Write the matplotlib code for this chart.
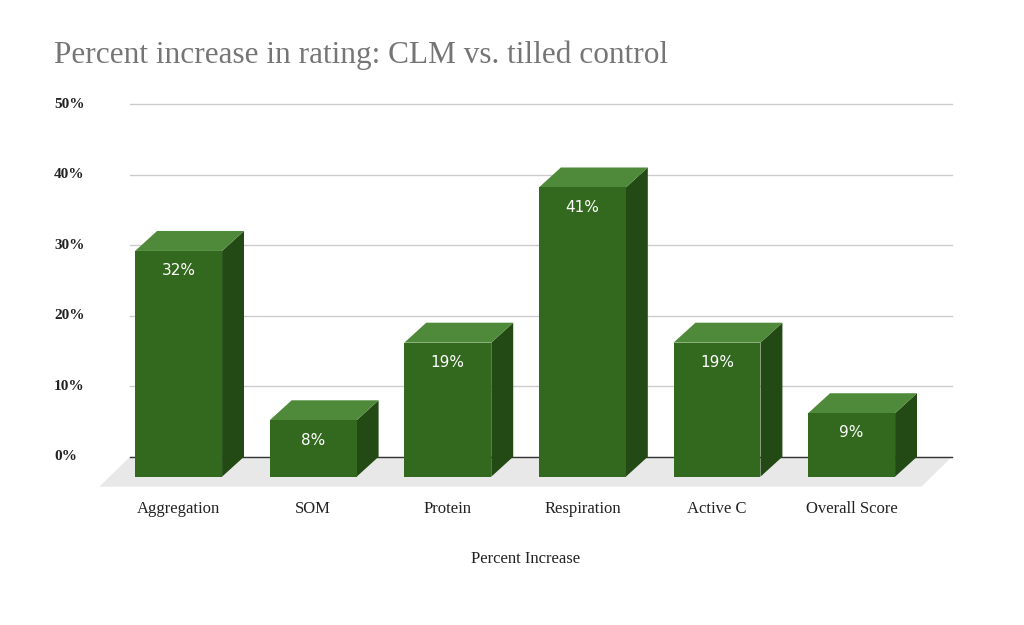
import matplotlib
matplotlib.use("Agg")
import matplotlib.pyplot as plt
from matplotlib.patches import Polygon
from matplotlib.transforms import blended_transform_factory

categories = ["Aggregation", "SOM", "Protein", "Respiration", "Active C", "Overall Score"]
values = [32, 8, 19, 41, 19, 9]
yticks = [0, 10, 20, 30, 40, 50]
ytick_labels = ["0%", "10%", "20%", "30%", "40%", "50%"]

W, H = 1024, 625
fig = plt.figure(figsize=(W/100, H/100), dpi=100)
ax = fig.add_axes([130/W, (H-492)/H, (952-130)/W, (492-104)/H])
x0, x1 = -0.524, 5.583
ax.set_xlim(x0, x1)
ax.set_ylim(-5, 50)
ax.axis("off")

serif = "Liberation Serif"
dx, dy = -0.163, -2.83
w = 0.646

# floor
ax.add_patch(Polygon([(x0, 0), (x1, 0), (x1 + dx*1.4, -4.25), (x0 + dx*1.4, -4.25)],
                     closed=True, fc="#e8e8e8", ec="none", zorder=1, clip_on=False))
for t in yticks:
    ax.plot([x0, x1], [t, t], color="#333333" if t == 0 else "#cccccc", lw=1,
            zorder=0.5 if t else 1.5, clip_on=False)

trans = blended_transform_factory(fig.transFigure, ax.transData)
for t, lab in zip(yticks, ytick_labels):
    ax.text(54/W, t, lab, transform=trans, ha="left", va="center",
            fontsize=11, family=serif, color="#222222", fontweight="bold")

front_c, top_c, side_c = "#33691e", "#4f8a3b", "#234a14"
for i, v in enumerate(values):
    l, r = i - w/2, i + w/2
    ax.add_patch(Polygon([(r+dx, v+dy), (r, v), (r, 0), (r+dx, dy)], closed=True,
                         fc=side_c, ec="none", zorder=2, clip_on=False))
    ax.add_patch(Polygon([(l+dx, v+dy), (r+dx, v+dy), (r, v), (l, v)], closed=True,
                         fc=top_c, ec="none", zorder=2, clip_on=False))
    ax.add_patch(Polygon([(l+dx, dy), (r+dx, dy), (r+dx, v+dy), (l+dx, v+dy)], closed=True,
                         fc=front_c, ec="none", zorder=3, clip_on=False))
    ax.text(i+dx, v+dy-2.8, f"{v}%", ha="center", va="center", color="white",
            fontsize=11, zorder=4)
    ax.text(i+dx, -7.4, categories[i], ha="center", va="center", family=serif,
            fontsize=12, color="#222222")

fig.text(526/W, 1 - 559/H, "Percent Increase", ha="center", va="center",
         family=serif, fontsize=12, color="#222222")
fig.text(54/W, 1 - 55/H, "Percent increase in rating: CLM vs. tilled control",
         ha="left", va="center", family=serif, fontsize=22.5, color="#757575")

fig.savefig("out.png", dpi=100)
